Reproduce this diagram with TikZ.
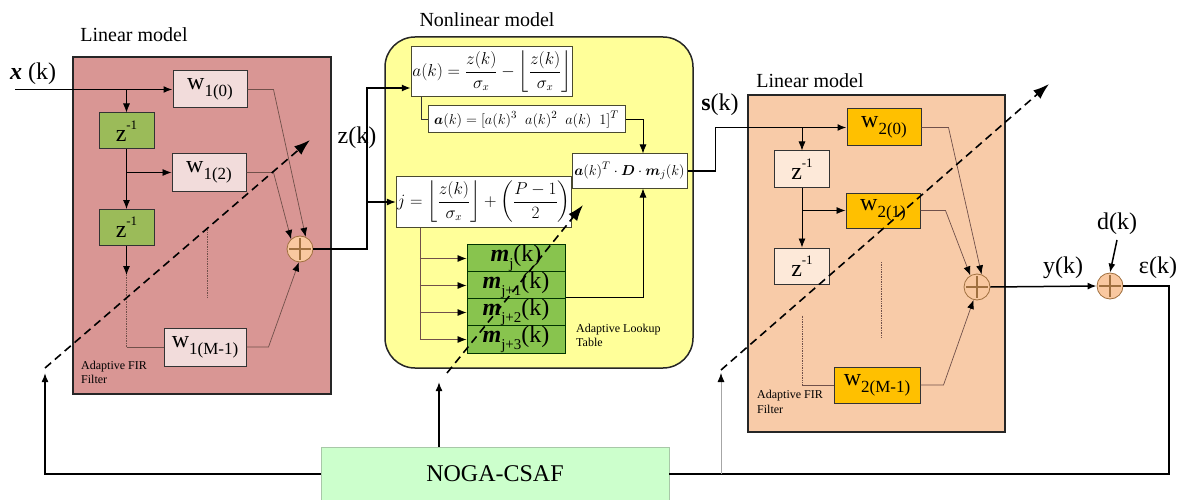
\documentclass[tikz,border=0pt]{standalone}
\usepackage{amsmath}
\usepackage{bm}
\usepackage{fontspec}
\setmainfont{Liberation Serif}
\usetikzlibrary{arrows.meta}

\definecolor{linAfill}{HTML}{D99694}
\definecolor{wAfill}{HTML}{F2DCDB}
\definecolor{zAfill}{HTML}{9BBB59}
\definecolor{nlfill}{HTML}{FFFF99}
\definecolor{lutfill}{HTML}{88C44E}
\definecolor{linBfill}{HTML}{F8CBA8}
\definecolor{wBfill}{HTML}{FFC000}
\definecolor{zBfill}{HTML}{FDE9D9}
\definecolor{sumfill}{HTML}{F9C8A0}
\definecolor{sumdraw}{HTML}{A0703F}
\definecolor{nogafill}{HTML}{CCFFCC}
\definecolor{nogadraw}{HTML}{A8C8A8}
\definecolor{wirec}{HTML}{70504A}
\definecolor{eqdraw}{HTML}{4A4A30}

\newcommand{\wlab}[1]{w\raisebox{-0.28em}{\fontsize{17}{19}\selectfont #1}}
\newcommand{\zlab}{z\raisebox{0.5em}{\fontsize{13}{15}\selectfont -1}}
\newcommand{\mlab}[1]{\textbf{\textit{m}}\raisebox{-0.3em}{\fontsize{15}{17}\selectfont #1}(k)}

\begin{document}
\begin{tikzpicture}[x=1pt,y=-1pt,
  >={Latex[length=9pt,width=7pt,color=black]},
  title/.style={font=\fontsize{20}{24}\selectfont},
  siglab/.style={font=\fontsize{24}{28}\selectfont},
  smalllab/.style={font=\fontsize{12}{14}\selectfont, align=left, anchor=north west, inner sep=0pt},
  bigbox/.style={draw=black!85, line width=1.5pt, inner sep=0pt},
  wbox/.style={draw=black!80, line width=1pt, inner sep=0pt, minimum width=74pt, minimum height=37pt, font=\fontsize{24}{28}\selectfont},
  delay/.style={draw=black!80, line width=1pt, inner sep=0pt, minimum width=55pt, minimum height=36pt, font=\fontsize{24}{28}\selectfont},
  eqbox/.style={draw=eqdraw, line width=1pt, fill=white, inner sep=1pt},
  lut/.style={draw=black!80!green, line width=1pt, fill=lutfill, inner sep=0pt, minimum width=98pt, minimum height=27pt, font=\fontsize{24}{28}\selectfont},
  sumnode/.style={circle, draw=sumdraw, line width=0.8pt, fill=sumfill, minimum size=26pt, inner sep=0pt,
    path picture={\draw[line width=1.8pt] ([xshift=2pt]path picture bounding box.west) -- ([xshift=-2pt]path picture bounding box.east)
      ([yshift=-2pt]path picture bounding box.north) -- ([yshift=2pt]path picture bounding box.south);}},
  sig/.style={line width=1.5pt},
  tap/.style={line width=0.8pt},
  wire/.style={draw=wirec, line width=0.7pt},
  adapt/.style={line width=1.6pt, dash pattern=on 8pt off 5pt, -{Latex[length=16pt,width=11pt]}}
]
\useasboundingbox (0,0) rectangle (1181,500);

% first linear model
\node[bigbox, fill=linAfill, minimum width=258pt, minimum height=337pt] (linA) at (202,225.5) {};
\node[title] (titA) at (134,35) {Linear model};
\node[wbox, fill=wAfill] (wA0) at (210,89.5) {\wlab{1(0)}};
\node[delay, fill=zAfill] (zA1) at (126.5,131) {\zlab};
\node[wbox, fill=wAfill] (wA1) at (209,172.5) {\wlab{1(2)}};
\node[delay, fill=zAfill] (zA2) at (126.5,227.5) {\zlab};
\node[wbox, fill=wAfill, minimum width=82pt, minimum height=38pt] (wA2) at (205,347) {\wlab{1(M-1)}};
\node[sumnode] (sumA) at (300,249) {};
\node[smalllab] (firA) at (81,361) {Adaptive FIR\\Filter};

% nonlinear model
\node[bigbox, fill=nlfill, rounded corners=30pt, minimum width=308pt, minimum height=331pt] (nl) at (539,202.5) {};
\node[title] (titNL) at (487,20) {Nonlinear model};
\node[eqbox, minimum width=160pt, minimum height=50pt, font=\fontsize{16}{19}\selectfont] (fa) at (492,72)
  {$a(k)=\dfrac{z(k)}{\sigma_x}-\left\lfloor\dfrac{z(k)}{\sigma_x}\right\rfloor$};
\node[eqbox, minimum width=197pt, minimum height=27pt, font=\fontsize{15}{18}\selectfont] (fav) at (526.5,119.5)
  {$\bm{a}(k)=[a(k)^3\;\;a(k)^2\;\;a(k)\;\;1]^T$};
\node[eqbox, minimum width=115pt, minimum height=34pt, font=\fontsize{15}{18}\selectfont] (fo) at (629.5,171)
  {$\bm{a}(k)^T\cdot\bm{D}\cdot\bm{m}_j(k)$};
\node[eqbox, minimum width=158pt, minimum height=50pt, font=\fontsize{16}{19}\selectfont] (fj) at (484,202)
  {$j=\left\lfloor\dfrac{z(k)}{\sigma_x}\right\rfloor+\left(\dfrac{P-1}{2}\right)$};
\foreach \i/\s in {0/j, 1/j+1, 2/j+2, 3/j+3}
  \node[lut] (m\i) at (516,258.5+27*\i) {\mlab{\s}};
\node[smalllab] (lutlab) at (576,324) {Adaptive Lookup\\Table};

% second linear model
\node[bigbox, fill=linBfill, minimum width=257pt, minimum height=337pt] (linB) at (876.5,263.5) {};
\node[title] (titB) at (810,81) {Linear model};
\node[wbox, fill=wBfill] (wB0) at (884,127.5) {\wlab{2(0)}};
\node[delay, fill=zBfill] (zB1) at (802,169) {\zlab};
\node[wbox, fill=wBfill, minimum height=35pt] (wB1) at (883,210.5) {\wlab{2(1)}};
\node[delay, fill=zBfill] (zB2) at (802,266) {\zlab};
\node[wbox, fill=wBfill, minimum width=86pt, minimum height=36pt] (wB2) at (877,385) {\wlab{2(M-1)}};
\node[sumnode] (sumB) at (977,287) {};
\node[smalllab, font=\fontsize{12}{15}\selectfont] (firB) at (757,390) {Adaptive FIR\\Filter};

% error and optimiser
\node[sumnode] (sumC) at (1110,286) {};
\node[draw=nogadraw, line width=0.6pt, fill=nogafill, minimum width=348pt, minimum height=54pt, font=\fontsize{24}{28}\selectfont] (noga) at (495,474) {NOGA-CSAF};

% signal labels
\node[siglab] (xk) at (33,74) {\textbf{\textit{x}} (k)};
\node[siglab] (zk) at (357,138) {z(k)};
\node[siglab] (sk) at (720,105) {\textbf{s}(k)};
\node[siglab] (yk) at (1063,268) {y(k)};
\node[siglab] (dk) at (1117,224) {d(k)};
\node[siglab] (ek) at (1158,268) {ε(k)};

\coordinate (xin) at (15,89.5);
\coordinate (zsplit) at (367,202);
\coordinate (adA0) at (45,368);
\coordinate (adA1) at (310,140);
\coordinate (adB0) at (447,373);
\coordinate (adB1) at (583,205);
\coordinate (adC0) at (721,370);
\coordinate (adC1) at (1049,84);

% tapped delay line 1
\draw[sig,->] (xin) -- (wA0.west);
\draw[tap,->] (zA1.north |- wA0.west) -- (zA1.north);
\draw[tap,->] (zA1.south) -- (zA2.north);
\draw[tap,->] (zA1.south |- wA1.west) -- (wA1.west);
\draw[tap,->] (zA2.south) -- ++(0,29) coordinate (zA2end);
\draw[wire,densely dotted] (zA2end) -- (zA2end |- wA2.west);
\draw[wire] (zA2end |- wA2.west) -- (wA2.west);
\draw[wire,densely dotted] (207,227) -- (207,298);
\draw[wire,->] (wA0.east) -- ++(26,0) -- (sumA.65);
\draw[wire,->] (wA1.east) -- ++(27,0) -- (sumA.132);
\draw[wire,->] (wA2.east) -- ++(22,0) -- (sumA.-95);

% into the nonlinear model
\draw[sig,line width=2pt,->] (sumA.east) -| ([yshift=-16pt]fa.west -| zsplit) -- ([yshift=-16pt]fa.west);
\draw[sig,->] (zsplit) -- (fj.west);
\draw[wire,draw=black!80] ([xshift=10pt]fa.south west) |- (fav.west);
\draw[tap,->] (fav.east) -| ([xshift=13.5pt]fo.north);
\draw[wire] ([xshift=24pt]fj.south west) -- ([xshift=24pt]fj.south west |- m3.west);
\foreach \i in {0,...,3}
  \draw[wire,->] ([xshift=24pt]fj.south west |- m\i.west) -- (m\i.west);
\draw[tap,->] ([yshift=2pt]m1.south east) -| ([xshift=13.5pt]fo.south);
\draw[sig,->] (fo.east) -- ++(28,0) |- (wB0.west);

% tapped delay line 2
\draw[tap,->] (zB1.north |- wB0.west) -- (zB1.north);
\draw[tap,->] (zB1.south) -- (zB2.north);
\draw[tap,->] (zB1.south |- wB1.west) -- (wB1.west);
\draw[wire,densely dotted] ([yshift=-31pt]zB2.south) -- (zB2.south |- wB2.west);
\draw[wire] (zB2.south |- wB2.west) -- (wB2.west);
\draw[wire,densely dotted] (881,262) -- (881,337);
\draw[wire,->] (wB0.east) -- ++(27,0) -- (sumB.70);
\draw[wire,->] (wB1.east) -- ++(25,0) -- (sumB.120);
\draw[wire,->] (wB2.east) -- ++(23,0) -- (sumB.-105);

% error and feedback
\draw[sig,->] (sumB.east) -- (sumC.west);
\draw[sig,->] ([yshift=-16pt]dk.center) -- (sumC.north);
\draw[sig,line width=1.2pt] (sumC.east) -| (1169,474) -- (noga.east);
\draw[sig,->] (noga.west) -| ([yshift=-5pt]adA0);
\draw[sig,->] ([xshift=-56pt]noga.north) -- ([xshift=-8pt,yshift=-9pt]adB0);
\draw[tap,draw=black!35,->] (noga.east -| adC0) -- ([yshift=-3pt]adC0);

% adaptation
\draw[adapt] (adA0) -- (adA1);
\draw[adapt] (adB0) -- (adB1);
\draw[adapt] (adC0) -- (adC1);
\end{tikzpicture}
\end{document}
